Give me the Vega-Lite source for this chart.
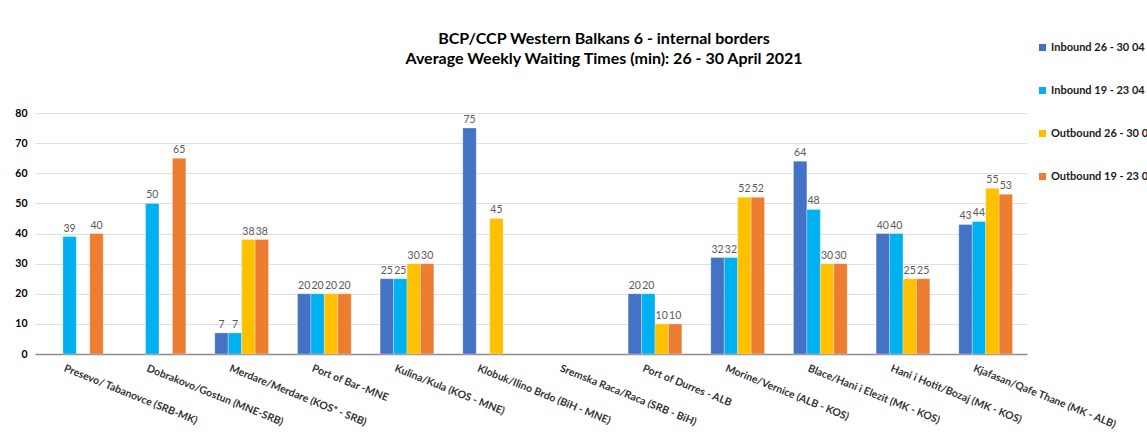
{
  "$schema": "https://vega.github.io/schema/vega-lite/v6.json",
  "width": 992,
  "height": 241,
  "autosize": "none",
  "padding": {"left": 35, "top": 113, "right": 120, "bottom": 85},
  "background": "white",
  "config": {
    "font": "Lato",
    "view": {"stroke": null}
  },
  "title": {
    "text": ["BCP/CCP Western Balkans 6 - internal borders", "Average Weekly Waiting Times (min): 26 - 30 April 2021"],
    "font": "Lato",
    "fontSize": 16,
    "fontWeight": "bold",
    "color": "#000000",
    "anchor": "middle",
    "frame": "group",
    "dx": 73,
    "offset": -25,
    "lineHeight": 20
  },
  "data": {
    "values": [
      {"crossing": "Presevo/ Tabanovce (SRB-MK)", "series": "Inbound 19 - 23 04", "value": 39},
      {"crossing": "Presevo/ Tabanovce (SRB-MK)", "series": "Outbound 19 - 23 04", "value": 40},
      {"crossing": "Dobrakovo/Gostun (MNE-SRB)", "series": "Inbound 19 - 23 04", "value": 50},
      {"crossing": "Dobrakovo/Gostun (MNE-SRB)", "series": "Outbound 19 - 23 04", "value": 65},
      {"crossing": "Merdare/Merdare (KOS* - SRB)", "series": "Inbound 26 - 30 04", "value": 7},
      {"crossing": "Merdare/Merdare (KOS* - SRB)", "series": "Inbound 19 - 23 04", "value": 7},
      {"crossing": "Merdare/Merdare (KOS* - SRB)", "series": "Outbound 26 - 30 04", "value": 38},
      {"crossing": "Merdare/Merdare (KOS* - SRB)", "series": "Outbound 19 - 23 04", "value": 38},
      {"crossing": "Port of Bar -MNE", "series": "Inbound 26 - 30 04", "value": 20},
      {"crossing": "Port of Bar -MNE", "series": "Inbound 19 - 23 04", "value": 20},
      {"crossing": "Port of Bar -MNE", "series": "Outbound 26 - 30 04", "value": 20},
      {"crossing": "Port of Bar -MNE", "series": "Outbound 19 - 23 04", "value": 20},
      {"crossing": "Kulina/Kula (KOS - MNE)", "series": "Inbound 26 - 30 04", "value": 25},
      {"crossing": "Kulina/Kula (KOS - MNE)", "series": "Inbound 19 - 23 04", "value": 25},
      {"crossing": "Kulina/Kula (KOS - MNE)", "series": "Outbound 26 - 30 04", "value": 30},
      {"crossing": "Kulina/Kula (KOS - MNE)", "series": "Outbound 19 - 23 04", "value": 30},
      {"crossing": "Klobuk/Ilino Brdo (BiH - MNE)", "series": "Inbound 26 - 30 04", "value": 75},
      {"crossing": "Klobuk/Ilino Brdo (BiH - MNE)", "series": "Outbound 26 - 30 04", "value": 45},
      {"crossing": "Port of Durres - ALB", "series": "Inbound 26 - 30 04", "value": 20},
      {"crossing": "Port of Durres - ALB", "series": "Inbound 19 - 23 04", "value": 20},
      {"crossing": "Port of Durres - ALB", "series": "Outbound 26 - 30 04", "value": 10},
      {"crossing": "Port of Durres - ALB", "series": "Outbound 19 - 23 04", "value": 10},
      {"crossing": "Morine/Vernice (ALB - KOS)", "series": "Inbound 26 - 30 04", "value": 32},
      {"crossing": "Morine/Vernice (ALB - KOS)", "series": "Inbound 19 - 23 04", "value": 32},
      {"crossing": "Morine/Vernice (ALB - KOS)", "series": "Outbound 26 - 30 04", "value": 52},
      {"crossing": "Morine/Vernice (ALB - KOS)", "series": "Outbound 19 - 23 04", "value": 52},
      {"crossing": "Blace/Hani i Elezit (MK - KOS)", "series": "Inbound 26 - 30 04", "value": 64},
      {"crossing": "Blace/Hani i Elezit (MK - KOS)", "series": "Inbound 19 - 23 04", "value": 48},
      {"crossing": "Blace/Hani i Elezit (MK - KOS)", "series": "Outbound 26 - 30 04", "value": 30},
      {"crossing": "Blace/Hani i Elezit (MK - KOS)", "series": "Outbound 19 - 23 04", "value": 30},
      {"crossing": "Hani i Hotit/Bozaj (MK - KOS)", "series": "Inbound 26 - 30 04", "value": 40},
      {"crossing": "Hani i Hotit/Bozaj (MK - KOS)", "series": "Inbound 19 - 23 04", "value": 40},
      {"crossing": "Hani i Hotit/Bozaj (MK - KOS)", "series": "Outbound 26 - 30 04", "value": 25},
      {"crossing": "Hani i Hotit/Bozaj (MK - KOS)", "series": "Outbound 19 - 23 04", "value": 25},
      {"crossing": "Kjafasan/Qafe Thane (MK - ALB)", "series": "Inbound 26 - 30 04", "value": 43},
      {"crossing": "Kjafasan/Qafe Thane (MK - ALB)", "series": "Inbound 19 - 23 04", "value": 44},
      {"crossing": "Kjafasan/Qafe Thane (MK - ALB)", "series": "Outbound 26 - 30 04", "value": 55},
      {"crossing": "Kjafasan/Qafe Thane (MK - ALB)", "series": "Outbound 19 - 23 04", "value": 53}
    ]
  },
  "encoding": {
    "x": {
      "field": "crossing",
      "type": "nominal",
      "sort": null,
      "scale": {
        "domain": ["Presevo/ Tabanovce (SRB-MK)", "Dobrakovo/Gostun (MNE-SRB)", "Merdare/Merdare (KOS* - SRB)", "Port of Bar -MNE", "Kulina/Kula (KOS - MNE)", "Klobuk/Ilino Brdo (BiH - MNE)", "Sremska Raca/Raca (SRB - BiH)", "Port of Durres - ALB", "Morine/Vernice (ALB - KOS)", "Blace/Hani i Elezit (MK - KOS)", "Hani i Hotit/Bozaj (MK - KOS)", "Kjafasan/Qafe Thane (MK - ALB)"],
        "paddingInner": 0.35,
        "paddingOuter": 0.175
      },
      "axis": {
        "title": null,
        "labelAngle": 22,
        "labelAlign": "left",
        "labelBaseline": "top",
        "labelFont": "Lato",
        "labelFontSize": 10.5,
        "labelFontWeight": "bold",
        "labelColor": "#333333",
        "labelPadding": 9,
        "labelOffset": -10,
        "ticks": false,
        "domainColor": "#8c8c8c",
        "domainWidth": 1.5,
        "labelLimit": 300
      }
    },
    "xOffset": {
      "field": "series",
      "type": "nominal",
      "scale": {
        "domain": ["Inbound 26 - 30 04", "Inbound 19 - 23 04", "Outbound 26 - 30 04", "Outbound 19 - 23 04"],
        "paddingInner": 0,
        "paddingOuter": 0
      }
    },
    "y": {
      "field": "value",
      "type": "quantitative",
      "scale": {"domain": [0, 80], "nice": false},
      "axis": {
        "title": null,
        "values": [0, 10, 20, 30, 40, 50, 60, 70, 80],
        "domain": false,
        "ticks": false,
        "labelFont": "Lato",
        "labelFontSize": 10.5,
        "labelFontWeight": "bold",
        "labelColor": "#000000",
        "labelPadding": 8,
        "gridColor": "#e0e0e0",
        "gridWidth": 1
      }
    }
  },
  "layer": [
    {
      "mark": {"type": "bar", "stroke": "white", "strokeWidth": 0.5, "strokeOpacity": 0.6},
      "encoding": {
        "color": {
          "field": "series",
          "type": "nominal",
          "scale": {
            "domain": ["Inbound 26 - 30 04", "Inbound 19 - 23 04", "Outbound 26 - 30 04", "Outbound 19 - 23 04"],
            "range": ["#4472C4", "#00B0F0", "#FFC000", "#ED7D31"]
          },
          "legend": {
            "title": null,
            "orient": "none",
            "legendX": 1002,
            "legendY": -71,
            "symbolType": "square",
            "symbolSize": 50,
            "symbolStrokeWidth": 0,
            "labelFont": "Lato",
            "labelFontSize": 11,
            "labelFontWeight": "bold",
            "labelColor": "#1a1a1a",
            "labelOffset": 3,
            "rowPadding": 31,
            "labelLimit": 200
          }
        }
      }
    },
    {
      "mark": {"type": "text", "dy": -8, "font": "Lato", "fontSize": 10.5, "color": "#595959"},
      "encoding": {
        "text": {"field": "value", "type": "quantitative"}
      }
    }
  ]
}
